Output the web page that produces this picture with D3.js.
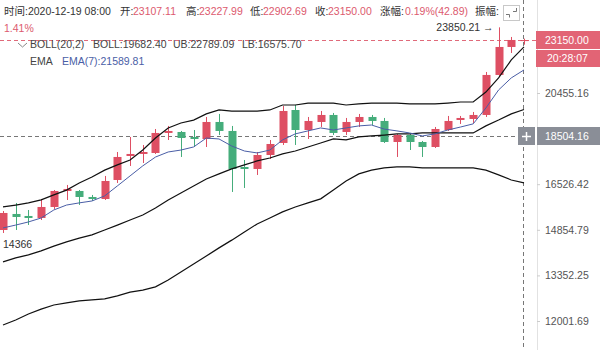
<!DOCTYPE html>
<html>
<head>
<meta charset="utf-8">
<script src="https://cdn.jsdelivr.net/npm/d3@7"></script>
<style>
body { margin: 0; background: #fff; }
svg { display: block; font-family: "Liberation Sans", Arial, "Noto Sans CJK SC", sans-serif; }
</style>
</head>
<body>
<svg id="chart" width="600" height="350"></svg>
<script>
// candles (4h), oldest first
let opens  = [14848,15415,15343,15271,15669,16266,16266,16040,15965,16690,17654,17737,17778,18630,18673,18456,18369,19115,18717,17205,17125,17695,18199,19658,18760,19115,19431,18673,19115,19340,19160,18241,18543,18241,18029,18760,19204,19250,19431,21337,22780,23107.11];
let closes = [15451,15307,15271,15669,16266,16343,16040,15965,16651,17613,17737,17819,18630,18717,18413,18369,19115,18717,17125,17125,17695,18156,19613,18760,19160,19431,18630,19115,19340,19160,18241,18543,18241,18029,18804,19160,19295,19431,21337,22780,23155,23150.00];
let highs  = [15523,15817,15559,15965,16304,16497,16304,16116,16848,17819,18456,18114,18804,18938,18717,18760,19340,19477,18938,17489,17819,18326,19844,19891,19340,19613,19522,19295,19477,19431,19295,18587,18587,18284,18893,19386,19386,19567,21486,23850.21,23319,23227.99];
let lows   = [14745,14848,15024,15199,15596,15927,15743,15890,15927,16574,17246,17367,17737,18326,17613,18029,18029,18543,16229,16381,16887,17530,18114,18114,18369,18893,18543,18543,18893,18982,18199,17613,17902,17613,17987,18717,19026,19071,19340,21287,22462,22902.69];

// indicators
let ubBand  = [15670,15740,15820,15930,16120,16300,16570,16810,17080,17290,17490,17900,18410,18850,19070,19200,19480,19660,19610,19610,19610,19660,19890,19890,19980,19980,19980,19890,19940,19980,19980,19980,19940,19940,19940,19980,20030,20030,20500,21190,22100,22789.09];
let midBand = [13780,13910,14010,14140,14300,14440,14570,14680,14850,15020,15200,15380,15630,15930,16190,16460,16730,16930,17130,17290,17450,17570,17740,17860,18030,18200,18370,18330,18460,18500,18540,18590,18590,18630,18630,18630,18630,18630,18940,19200,19480,19682.40];
let lbBand  = [11890,12030,12200,12340,12460,12520,12580,12610,12640,12730,12840,12900,13000,13210,13460,13710,13970,14240,14500,14780,15060,15270,15490,15670,15820,15970,16300,16650,16930,17080,17170,17210,17210,17170,17170,17170,17170,17170,17080,16890,16690,16575.70];
let ema7    = [14920,15020,15130,15270,15560,15740,15820,15890,16080,16460,16850,17250,17610,17820,17900,18030,18410,18370,18070,17860,17780,17900,18330,18590,18720,18850,18760,18850,18940,18980,18800,18720,18630,18500,18590,18760,18890,19030,19750,20600,21190,21589.81];

let axisTicks = [20455.16, 16526.42, 14854.79, 13352.25, 12001.69];
let crossPrice = 18504.16;
let lowMark = 14366;
let countdown = '20:28:07';

let red = '#de4f63', green = '#45ad7b', dark = '#333', valRed = '#dc5a6e';
let plotRight = 537;

let svg = d3.select('#chart');

let x = d3.scaleLinear()
	.domain([0, opens.length - 1])
	.range([3, 524]);

let y = d3.scaleLog()
	.domain([12001.69, 20455.16])
	.range([321, 93]);

let px = i => Math.round(x(i)) + 0.5;
let last = opens.length - 1;

svg.append('clipPath').attr('id', 'plot')
	.append('rect').attr('x', 0).attr('y', 0).attr('width', plotRight).attr('height', 350);

// right axis
svg.append('line')
	.attr('x1', plotRight + 0.5).attr('x2', plotRight + 0.5)
	.attr('y1', 0).attr('y2', 350)
	.attr('stroke', '#e2e2e2');

let axis = svg.append('g')
	.attr('transform', 'translate(' + plotRight + ',0)')
	.call(d3.axisRight(y).tickValues(axisTicks).tickFormat(d3.format('.2f')).tickSize(3).tickPadding(5));
axis.select('.domain').remove();
axis.selectAll('.tick line').attr('stroke', '#ccc');
axis.selectAll('.tick text').attr('fill', '#555').attr('font-size', '10.5px')
	.attr('font-family', '"Liberation Sans", Arial, sans-serif');

// last price dashed line
svg.append('line')
	.attr('x1', 0).attr('x2', plotRight)
	.attr('y1', Math.round(y(closes[last])) + 0.5).attr('y2', Math.round(y(closes[last])) + 0.5)
	.attr('stroke', '#e06a7a').attr('stroke-dasharray', '4,3');

// crosshair
svg.append('line')
	.attr('x1', 0).attr('x2', 518)
	.attr('y1', Math.round(y(crossPrice)) + 0.5).attr('y2', Math.round(y(crossPrice)) + 0.5)
	.attr('stroke', '#777').attr('stroke-dasharray', '4,3');
svg.append('line')
	.attr('x1', px(last) - 1).attr('x2', px(last) - 1)
	.attr('y1', 0).attr('y2', 350)
	.attr('stroke', '#777').attr('stroke-dasharray', '4,3');

let plot = svg.append('g').attr('clip-path', 'url(#plot)');

// candles
let bar = plot.append('g').selectAll('g')
		.data(d3.range(opens.length))
	.enter().append('g')
		.attr('fill', i => closes[i] >= opens[i] ? red : green)
		.attr('stroke', i => closes[i] >= opens[i] ? red : green);

bar.append('line')
		.attr('x1', px).attr('x2', px)
		.attr('y1', i => y(highs[i]))
		.attr('y2', i => y(lows[i]));

bar.append('rect')
		.attr('x', i => Math.round(x(i)) - 3.5)
		.attr('width', 8)
		.attr('y', i => y(Math.max(opens[i], closes[i])))
		.attr('height', i => Math.max(1, Math.abs(y(opens[i]) - y(closes[i]))))
		.attr('stroke', 'none');

// bollinger + ema
let line = d3.line().x((d, i) => x(i)).y(d => y(d));
[[ubBand, '#111'], [midBand, '#111'], [lbBand, '#111'], [ema7, '#4a5ea6']].forEach(function(s) {
	plot.append('path')
		.datum(s[0])
		.attr('d', line)
		.attr('fill', 'none')
		.attr('stroke', s[1])
		.attr('stroke-width', s[1] == '#111' ? 1.2 : 1);
});

// high / low marks
let hi = d3.maxIndex(highs);
svg.append('text')
	.attr('x', x(hi) - 5).attr('y', y(highs[hi]) + 4)
	.attr('text-anchor', 'end').attr('font-size', '10.5px').attr('fill', dark)
	.text(d3.format('.2f')(highs[hi]) + ' \u2192');
svg.append('text')
	.attr('x', 3).attr('y', y(lowMark) + 4)
	.attr('font-size', '10.5px').attr('fill', dark)
	.text(lowMark);

// price labels on the axis
let yl = Math.round(y(closes[last]));
svg.append('rect').attr('x', plotRight - 1).attr('y', yl - 9).attr('width', 64).attr('height', 18).attr('fill', '#e26475');
svg.append('rect').attr('x', plotRight - 1).attr('y', yl + 10).attr('width', 64).attr('height', 17).attr('fill', '#e26475');
svg.append('text').attr('x', 545).attr('y', yl + 4).attr('fill', '#fff').attr('font-size', '10.5px')
	.text(d3.format('.2f')(closes[last]));
svg.append('text').attr('x', 547).attr('y', yl + 22).attr('fill', '#fff').attr('font-size', '10.5px')
	.text(countdown);

let yc = Math.round(y(crossPrice));
svg.append('rect').attr('x', plotRight).attr('y', yc - 9).attr('width', 63).attr('height', 18).attr('fill', '#8a8e97');
svg.append('rect').attr('x', 518).attr('y', yc - 9).attr('width', 17).attr('height', 18).attr('fill', '#8a8e97');
svg.append('text').attr('x', 545).attr('y', yc + 4).attr('fill', '#fff').attr('font-size', '10.5px')
	.text(d3.format('.2f')(crossPrice));
svg.append('path').attr('d', 'M522,' + (yc + 0.5) + 'h9M526.5,' + (yc - 4) + 'v9')
	.attr('stroke', '#fff').attr('stroke-width', 1.5);

// header
let header = [
	['时间:2020-12-19 08:00', dark, 4],
	['开:', dark, 120], ['23107.11', valRed, 133],
	['高:', dark, 186], ['23227.99', valRed, 199],
	['低:', dark, 250], ['22902.69', valRed, 263],
	['收:', dark, 315], ['23150.00', valRed, 328],
	['涨幅:', dark, 380], ['0.19%(42.89)', valRed, 405],
	['振幅:', dark, 475]
];
header.forEach(function(h) {
	svg.append('text').attr('x', h[2]).attr('y', 15)
		.attr('font-size', '10.5px').attr('fill', h[1]).text(h[0]);
});
svg.append('text').attr('x', 4).attr('y', 32).attr('font-size', '10.5px').attr('fill', valRed).text('1.41%');

// icon top right
svg.append('rect').attr('x', 503.5).attr('y', 5.5).attr('width', 16).attr('height', 15)
	.attr('fill', '#fff').attr('stroke', '#c8c8c8');
svg.append('path').attr('d', 'M506,14.5h3.5v3M516.5,8v3.5h-3.5')
	.attr('fill', 'none').attr('stroke', '#777');

// legends
svg.append('path').attr('d', 'M18,43l4.5,4l4.5,-4').attr('fill', 'none').attr('stroke', '#888');
let legend = svg.append('text').attr('y', 48).attr('font-size', '10.5px').attr('fill', '#444');
legend.append('tspan').attr('x', 30).text('BOLL(20,2)');
legend.append('tspan').attr('x', 93).text('BOLL:' + d3.format('.2f')(midBand[last]));
legend.append('tspan').attr('x', 173).text('UB:' + d3.format('.2f')(ubBand[last]));
legend.append('tspan').attr('x', 242).text('LB:' + d3.format('.2f')(lbBand[last]));

let legend2 = svg.append('text').attr('y', 65).attr('font-size', '10.5px');
legend2.append('tspan').attr('x', 30).attr('fill', '#444').text('EMA');
legend2.append('tspan').attr('x', 62).attr('fill', '#4a5ea6').text('EMA(7):' + d3.format('.2f')(ema7[last]));
</script>
</body>
</html>
